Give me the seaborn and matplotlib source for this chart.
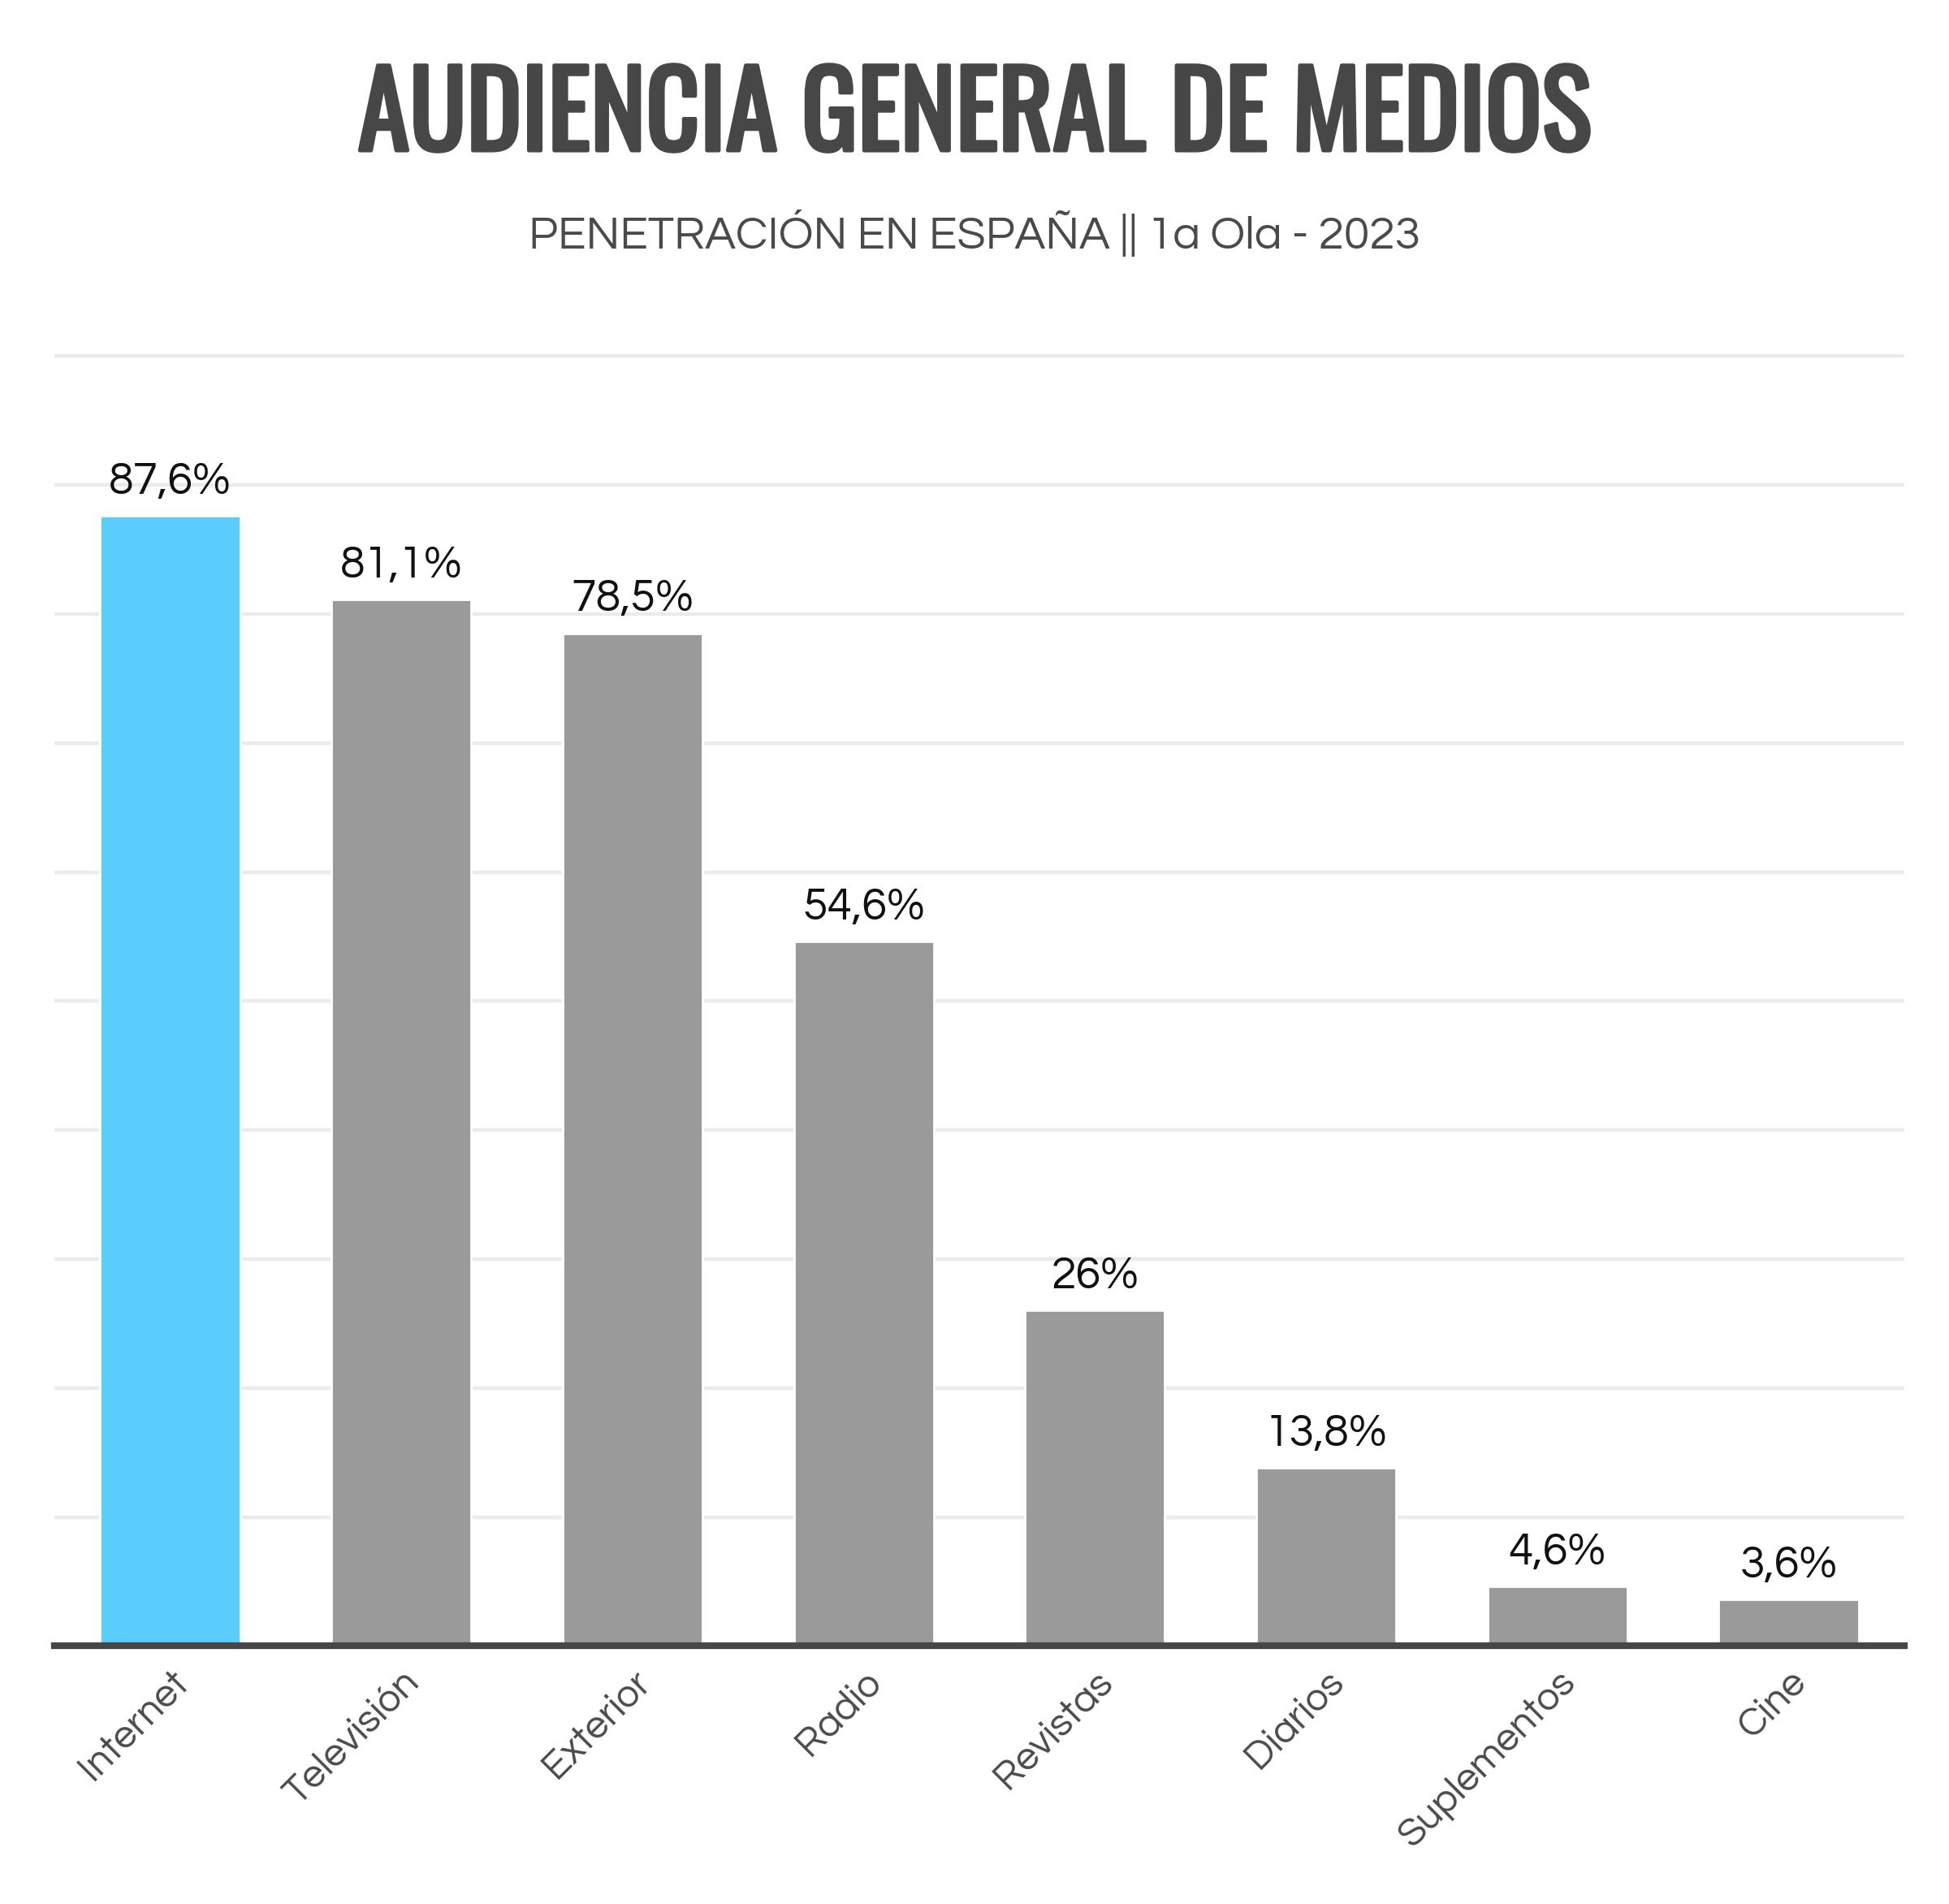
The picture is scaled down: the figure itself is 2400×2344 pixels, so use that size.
import matplotlib
matplotlib.use("Agg")
import matplotlib.pyplot as plt
import matplotlib.patheffects as pe
import seaborn as sns
import pandas as pd
from matplotlib import font_manager

categories = ["Internet", "Televisión", "Exterior", "Radio", "Revistas", "Diarios", "Suplementos", "Cine"]
values = [87.6, 81.1, 78.5, 54.6, 26, 13.8, 4.6, 3.6]
bar_colors = ["#5bcdfd", "#9a9a9a", "#9a9a9a", "#9a9a9a", "#9a9a9a", "#9a9a9a", "#9a9a9a", "#9a9a9a"]

title = "AUDIENCIA GENERAL DE MEDIOS"
subtitle = "PENETRACIÓN EN ESPAÑA || 1a Ola - 2023"

installed = {f.name for f in font_manager.fontManager.ttflist}


def pick(*names):
    for n in names:
        if n in installed:
            return n
    return "DejaVu Sans"


title_font = pick("Oswald", "Liberation Sans Narrow", "DejaVu Sans")
text_font = pick("Questrial", "Lato", "Roboto")

sns.set_theme(style="white")
plt.rcParams["font.family"] = [text_font, "DejaVu Sans"]

df = pd.DataFrame({"medio": categories, "pct": values})

fig = plt.figure(figsize=(12, 11.72), dpi=200)
ax = fig.add_axes([0.028, 0.1355, 0.949, 0.6843])

sns.barplot(data=df, x="medio", y="pct", hue="medio", palette=bar_colors,
            width=0.605, saturation=1, legend=False, ax=ax)

ax.set_ylim(0, 101)
ax.set_xlim(-0.5, len(categories) - 0.5)
ax.set_yticks(range(0, 101, 10))
ax.set_yticklabels([])
ax.tick_params(axis="y", length=0)
ax.yaxis.grid(True, color="#ebebeb", linewidth=1.6)
ax.set_axisbelow(True)
for s in ["top", "right", "left"]:
    ax.spines[s].set_visible(False)
ax.spines["bottom"].set_color("#474747")
ax.spines["bottom"].set_linewidth(3)
ax.set_xlabel("")
ax.set_ylabel("")

ax.tick_params(axis="x", length=0, pad=8, labelsize=17.5, labelcolor="#4a4a4a")
plt.setp(ax.get_xticklabels(), rotation=45, ha="right", rotation_mode="anchor")

for container in ax.containers:
    labels = [f"{v:g}".replace(".", ",") + "%" for v in container.datavalues]
    ax.bar_label(container, labels=labels, padding=6, fontsize=20, color="#111111")

# Oswald is only available in regular weight here, so thicken it with a thin stroke
fig.text(0.5, 0.921, title, ha="center", va="baseline", fontsize=46.5,
         color="#474747", family=[title_font, "DejaVu Sans"],
         path_effects=[pe.withStroke(linewidth=1.7, foreground="#474747")])
fig.text(0.5, 0.877, subtitle, ha="center", va="center", fontsize=20.5,
         color="#4a4a4a")

fig.savefig("out.png", dpi=200, facecolor="white")
